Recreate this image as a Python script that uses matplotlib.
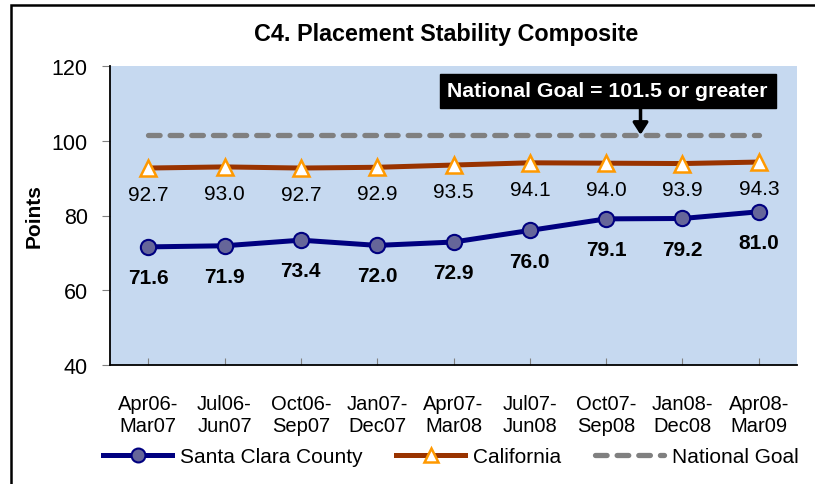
import matplotlib
matplotlib.use("Agg")
import matplotlib.pyplot as plt
from matplotlib.patches import Rectangle
from matplotlib.lines import Line2D

plt.rcParams['font.family'] = ['Liberation Sans', 'DejaVu Sans']

categories = ["Apr06-\nMar07", "Jul06-\nJun07", "Oct06-\nSep07", "Jan07-\nDec07",
              "Apr07-\nMar08", "Jul07-\nJun08", "Oct07-\nSep08", "Jan08-\nDec08",
              "Apr08-\nMar09"]
santa_clara = [71.6, 71.9, 73.4, 72.0, 72.9, 76.0, 79.1, 79.2, 81.0]
california = [92.7, 93.0, 92.7, 92.9, 93.5, 94.1, 94.0, 93.9, 94.3]
national_goal = [101.5] * 9
y_ticks = [40, 60, 80, 100, 120]

fig = plt.figure(figsize=(8.15, 4.85), dpi=100)
ax = fig.add_axes([110/815, 1-366/485, (797-110)/815, (366-67)/485])
ax.set_facecolor('#C6D9F0')

x = list(range(len(categories)))

ax.plot(x, national_goal, color='#808080', lw=3.8, ls=(0, (2.2, 1.9)),
        dash_capstyle='round', label='National Goal', zorder=2)
ax.plot(x, california, color='#993300', lw=3.6, marker='^', markersize=12,
        markerfacecolor='white', markeredgecolor='#FF9900', markeredgewidth=1.8,
        label='California', zorder=3)
ax.plot(x, santa_clara, color='#000080', lw=3.6, marker='o', markersize=11,
        markerfacecolor='#666699', markeredgecolor='#000080', markeredgewidth=1.5,
        label='Santa Clara County', zorder=4)

for xi, v in zip(x, california):
    ax.annotate(f"{v:.1f}", (xi, v), xytext=(0, -19), textcoords='offset points',
                ha='center', va='center', fontsize=15, color='black')
for xi, v in zip(x, santa_clara):
    ax.annotate(f"{v:.1f}", (xi, v), xytext=(0, -22), textcoords='offset points',
                ha='center', va='center', fontsize=15, fontweight='bold', color='black')

ax.set_xlim(-0.5, len(categories) - 0.5)
ax.set_ylim(40, 120)
ax.set_yticks(y_ticks)
ax.set_yticklabels([str(t) for t in y_ticks], fontsize=15.5)
ax.set_xticks(x)
ax.set_xticklabels(categories, fontsize=14.5, linespacing=1.22)
ax.tick_params(axis='x', length=5, color='#808080', pad=21, direction='in')
ax.tick_params(axis='y', length=6, color='#808080', pad=10)
for s in ['top', 'right']:
    ax.spines[s].set_visible(False)
for s in ['left', 'bottom']:
    ax.spines[s].set_color('black')
    ax.spines[s].set_linewidth(1.3)

ax.set_ylabel('Points', fontsize=15, fontweight='bold', labelpad=6)

# annotation box
ax.text(6.02, 113.4, 'National Goal = 101.5 or greater', fontsize=15.3, fontweight='bold',
        color='white', ha='center', va='center',
        bbox=dict(boxstyle='square,pad=0.36', facecolor='black', edgecolor='black'), zorder=6)
ax.annotate('', xy=(6.45, 101.6), xytext=(6.45, 109.0),
            arrowprops=dict(arrowstyle='-|>,head_width=0.45,head_length=0.7',
                            color='black', lw=2.5, shrinkA=0, shrinkB=0), zorder=6)

fig.text(446/815, 1-35/485, 'C4. Placement Stability Composite', fontsize=16.8,
         fontweight='bold', ha='center', va='center')

handles = [
    Line2D([], [], color='#000080', lw=3.6, marker='o', markersize=10,
           markerfacecolor='#666699', markeredgecolor='#000080', markeredgewidth=1.5),
    Line2D([], [], color='#993300', lw=3.6, marker='^', markersize=10,
           markerfacecolor='white', markeredgecolor='#FF9900', markeredgewidth=1.8),
    Line2D([], [], color='#808080', lw=3.8, ls=(0, (2.2, 1.9)), dash_capstyle='round'),
]
fig.legend(handles, ['Santa Clara County', 'California', 'National Goal'],
           loc='center', bbox_to_anchor=(451/815, 1-458/485), ncol=3, frameon=False,
           fontsize=15, handlelength=3.3, handletextpad=0.4, columnspacing=1.6,
           borderpad=0, borderaxespad=0)

fig.patches.append(Rectangle((11/815, -0.1), 1.2, 1-6/485+0.1, transform=fig.transFigure,
                             fill=False, edgecolor='black', lw=1.8, zorder=10))

fig.savefig('out.png', dpi=100)
